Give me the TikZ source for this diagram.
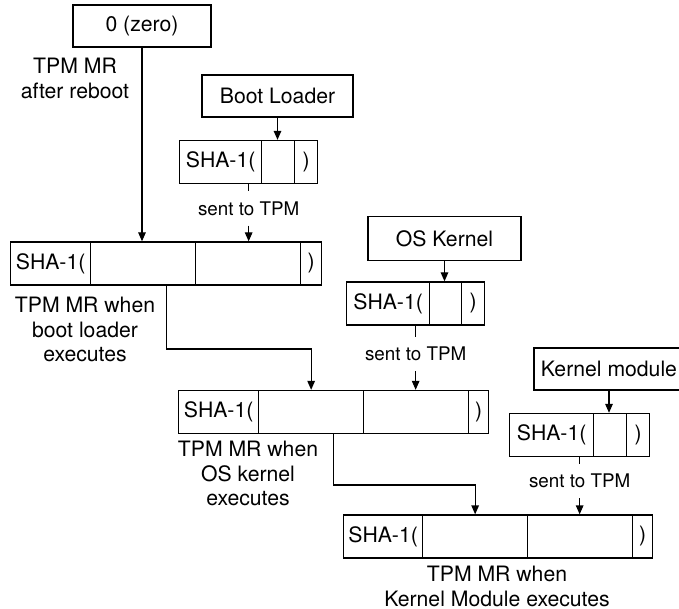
\documentclass[tikz,border=0pt]{standalone}
\usepackage{fontspec}
\setmainfont{TeX Gyre Heros}
\usetikzlibrary{arrows.meta,calc}

\begin{document}
\begin{tikzpicture}[x=1pt,y=-1pt,
  every node/.style={font=\fontsize{21.2}{24.5}\selectfont},
  wire/.style={line width=1.3pt},
  arr/.style={wire,-{Triangle[length=9pt,width=7.5pt]}},
  box/.style={draw,wire,inner sep=0pt,minimum height=42pt},
  cell/.style={draw,wire,inner sep=0pt,minimum height=43pt,anchor=west},
  caption/.style={align=center,inner sep=0pt,anchor=north},
  sent/.style={inner sep=0pt,minimum height=34pt,font=\fontsize{18.8}{22}\selectfont}]

% page area
\fill[white] (0,0) rectangle (679,609);
\useasboundingbox (0,0) rectangle (679,609);

% inputs
\node[box,minimum width=138pt] (zero) at (142,26) {0 (zero)};
\node[caption] (cap0) at (75,58) {TPM MR\\after reboot};
\node[box,minimum width=151pt] (boot) at (277.5,96) {Boot Loader};
\node[box,minimum width=153pt,minimum height=44pt] (kern) at (444.5,238.5) {OS Kernel};
\node[box,minimum width=150pt] (kmod) at (609,369) {Kernel module};

% hash of the boot loader
\node[cell,minimum width=82pt] (s1a) at (179,162) {SHA-1(};
\node[cell,minimum width=33pt] (s1b) at (261,162) {};
\node[cell,minimum width=23pt] (s1c) at (294,162) {)};

% hash of the OS kernel
\node[cell,minimum width=83pt] (s2a) at (346,303.5) {SHA-1(};
\node[cell,minimum width=32pt] (s2b) at (429,303.5) {};
\node[cell,minimum width=23pt] (s2c) at (461,303.5) {)};

% hash of the kernel module
\node[cell,minimum width=84pt] (s3a) at (509,435) {SHA-1(};
\node[cell,minimum width=33pt] (s3b) at (593,435) {};
\node[cell,minimum width=23pt] (s3c) at (626,435) {)};

% extended measurement register values
\node[cell,minimum width=80pt] (b1a) at (10,263.5) {SHA-1(};
\node[cell,minimum width=105pt] (b1b) at (90,263.5) {};
\node[cell,minimum width=105pt] (b1c) at (195,263.5) {};
\node[cell,minimum width=21pt] (b1d) at (300,263.5) {)};
\node[caption] (cap1) at (85,297) {TPM MR when\\boot loader\\executes};

\node[cell,minimum width=80pt] (b2a) at (178,412) {SHA-1(};
\node[cell,minimum width=105pt] (b2b) at (258,412) {};
\node[cell,minimum width=105pt] (b2c) at (363,412) {};
\node[cell,minimum width=20pt] (b2d) at (468,412) {)};
\node[caption] (cap2) at (248,441) {TPM MR when\\OS kernel\\executes};

\node[cell,minimum width=79pt] (b3a) at (343,536.5) {SHA-1(};
\node[cell,minimum width=105pt] (b3b) at (422,536.5) {};
\node[cell,minimum width=105pt] (b3c) at (527,536.5) {};
\node[cell,minimum width=20pt] (b3d) at (632,536.5) {)};
\node[caption] (cap3) at (497,566) {TPM MR when\\Kernel Module executes};

% "sent to TPM" labels under each hash
\path ($(s1a.south west)!.5!(s1c.south east)$) coordinate (s1bot);
\path ($(s2a.south west)!.5!(s2c.south east)$) coordinate (s2bot);
\path ($(s3a.south west)!.5!(s3c.south east)$) coordinate (s3bot);
\node[sent] (t1) at (s1bot |- 0,208.5) {sent to TPM};
\node[sent] (t2) at (s2bot |- 0,354) {sent to TPM};
\node[sent] (t3) at (s3bot |- 0,481) {sent to TPM};

% inputs into the hashes
\draw[arr] (boot.south) -- (boot.south |- s1b.north);
\draw[arr] (kern.south) -- (kern.south |- s2b.north);
\draw[arr] (kmod.south) -- (kmod.south |- s3b.north);

% hashes sent into the register
\draw[wire] (s1bot) -- (t1.north);
\draw[arr] (t1.south) -- (t1.south |- b1c.north);
\draw[wire] (s2bot) -- (t2.north);
\draw[arr] (t2.south) -- (t2.south |- b2c.north);
\draw[wire] (s3bot) -- (t3.north);
\draw[arr] (t3.south) -- (t3.south |- b3c.north);

% previous register value feeds the next extend
\draw[arr] (zero.south) -- (zero.south |- b1b.north);
\path (b1b.south) ++(23.5,0) coordinate (k1);
\draw[arr] (k1) -- (k1 |- 0,349) -| (b2b.north);
\path (b2b.south) ++(22.5,0) coordinate (k2);
\draw[arr] (k2) -- (k2 |- 0,485) -| (b3b.north);
\end{tikzpicture}
\end{document}
